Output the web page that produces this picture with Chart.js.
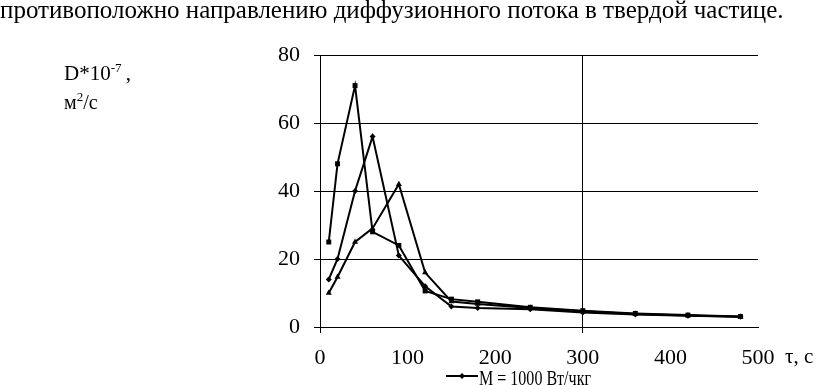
<!DOCTYPE html>
<html lang="ru">
<head>
    <meta charset="UTF-8">
    <title>D(τ)</title>
    <script src="https://cdn.jsdelivr.net/npm/chart.js"></script>
    <style>
        body {
            margin: 0;
            background-color: #fff;
            font-family: "Liberation Serif", "Times New Roman", serif;
            color: #000;
        }
        .page {
            position: relative;
            width: 826px;
            height: 385px;
            overflow: hidden;
        }
        .txt {
            position: absolute;
            white-space: nowrap;
            line-height: 1;
        }
        #chartBox {
            position: absolute;
            left: 0;
            top: 0;
            width: 826px;
            height: 385px;
        }
    </style>
</head>
<body>
<div class="page">
    <div id="chartBox"><canvas id="diffChart"></canvas></div>
    <div class="txt" style="left:0; top:-3px; font-size:25px;">противоположно направлению диффузионного потока в твердой частице.</div>
    <div class="txt" style="left:64px; top:61px; font-size:21px;">D*10<sup style="font-size:13px;">-7</sup>&thinsp;,</div>
    <div class="txt" style="left:64px; top:90px; font-size:20px;">м<sup style="font-size:13px;">2</sup>/с</div>
    <div class="txt" style="left:785px; top:346px; font-size:21px;">τ, с</div>
</div>

<script>
    // time, s
    const tau = [10, 20, 40, 60, 90, 120, 150, 180, 240, 300, 360, 420, 480];
    // D*10^-7, m2/s
    const seriesDiamond = [14, 20, 40, 56, 21, 12, 6, 5.6, 5.2, 4.3, 3.7, 3.3, 3];
    const seriesSquare = [25, 48, 71, 28, 24, 10.6, 8.2, 7.4, 5.8, 4.8, 4, 3.5, 3.1];
    const seriesTriangle = [10, 14.7, 25, 29, 42, 16, 7.5, 6.8, 5.6, 4.6, 3.8, 3.4, 3];
    const legendLabel = 'M = 1000 Вт/чкг';
    const xTicks = [0, 100, 200, 300, 400, 500];
    const yTicks = [0, 20, 40, 60, 80];

    const toPoints = vals => vals.map((v, i) => ({ x: tau[i], y: v }));

    const lineStyle = {
        borderColor: '#000',
        backgroundColor: '#000',
        borderWidth: 2,
        pointBorderWidth: 0,
        tension: 0,
        fill: false
    };

    // legend: line with marker, only the first entry fits in the picture
    const lineLegend = {
        id: 'lineLegend',
        afterDraw(chart) {
            const c = chart.ctx;
            const y = 376;
            c.save();
            c.strokeStyle = '#000';
            c.lineWidth = 2;
            c.beginPath();
            c.moveTo(446, y);
            c.lineTo(478, y);
            c.stroke();
            c.fillStyle = '#000';
            c.beginPath();
            c.moveTo(462, y - 3);
            c.lineTo(465, y);
            c.lineTo(462, y + 3);
            c.lineTo(459, y);
            c.closePath();
            c.fill();
            c.font = '22px "Liberation Serif"';
            c.textBaseline = 'alphabetic';
            const txt = chart.data.datasets[0].label;
            const sx = 112 / c.measureText(txt).width;
            c.translate(479, 385);
            c.scale(sx, 1);
            c.fillText(txt, 0, 0);
            c.restore();
        }
    };

    new Chart(document.getElementById('diffChart'), {
        type: 'line',
        data: {
            datasets: [
                { ...lineStyle, label: legendLabel, data: toPoints(seriesDiamond), pointStyle: 'rectRot', pointRadius: 3 },
                { ...lineStyle, label: '', data: toPoints(seriesSquare), pointStyle: 'rect', pointRadius: 3.5 },
                { ...lineStyle, label: '', data: toPoints(seriesTriangle), pointStyle: 'triangle', pointRadius: 3.5 }
            ]
        },
        options: {
            responsive: true,
            maintainAspectRatio: false,
            animation: false,
            layout: { padding: { left: 0, top: 55, right: 68, bottom: 0 } },
            plugins: {
                legend: { display: false },
                tooltip: { enabled: false }
            },
            scales: {
                x: {
                    type: 'linear',
                    min: 0,
                    max: 500,
                    afterBuildTicks: s => { s.ticks = xTicks.map(v => ({ value: v })); },
                    afterFit: s => { s.height = 58; },
                    border: { color: '#000', width: 1 },
                    grid: {
                        color: ctx => (ctx.tick && (ctx.tick.value === 300 || ctx.tick.value === 0)) ? '#000' : 'rgba(0,0,0,0)',
                        lineWidth: 1,
                        tickLength: 6
                    },
                    ticks: {
                        color: '#000',
                        padding: 12,
                        maxRotation: 0,
                        font: { family: 'Liberation Serif', size: 22 }
                    }
                },
                y: {
                    min: 0,
                    max: 80,
                    afterBuildTicks: s => { s.ticks = yTicks.map(v => ({ value: v })); },
                    afterFit: s => { s.width = 320; },
                    border: { color: '#000', width: 1 },
                    grid: {
                        color: '#000',
                        lineWidth: 1,
                        tickLength: 6
                    },
                    ticks: {
                        color: '#000',
                        padding: 14,
                        font: { family: 'Liberation Serif', size: 22 }
                    }
                }
            }
        },
        plugins: [lineLegend]
    });
</script>
</body>
</html>
